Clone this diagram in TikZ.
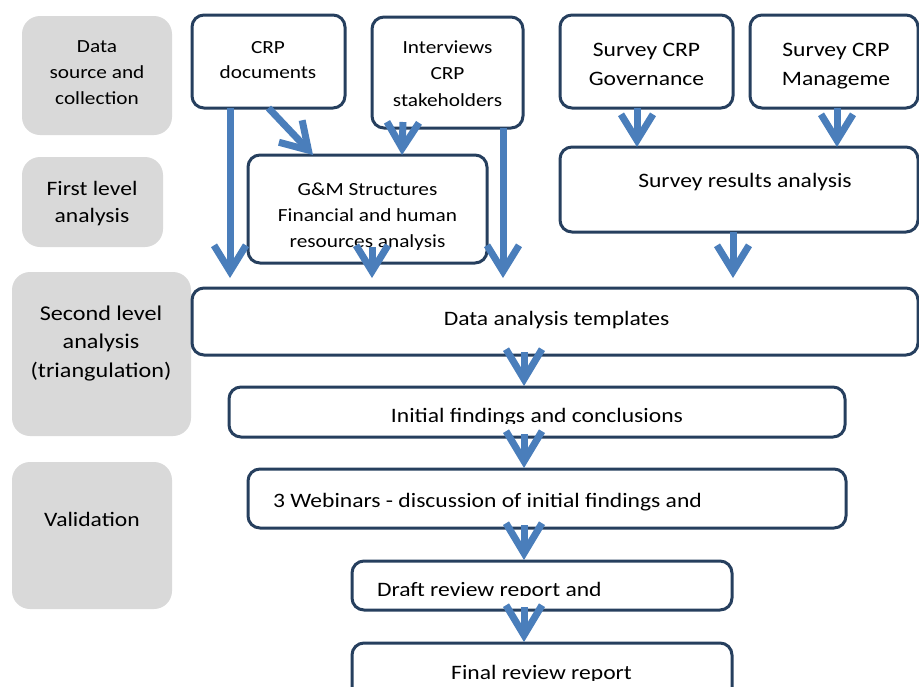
\documentclass[tikz,border=0pt]{standalone}
\usepackage{fontspec}
\setmainfont{Carlito}[FakeStretch=1.15]
\usetikzlibrary{arrows.meta}
\definecolor{navy}{HTML}{263F5E}
\definecolor{arrowblue}{HTML}{4A7EBB}
\definecolor{lgray}{HTML}{D9D9D9}
\newcommand{\mlines}[1]{\begin{tabular}[t]{@{}c@{}}#1\end{tabular}}
\begin{document}
\begin{tikzpicture}[x=1pt,y=-1pt,
  gbox/.style={fill=lgray, draw=none, rounded corners=18pt, inner sep=0pt, outer sep=0pt},
  wbox/.style={draw=navy, line width=3pt, fill=white, rounded corners=12pt, inner sep=0pt, outer sep=0pt},
  txt/.style={inner sep=0pt, outer sep=0pt, anchor=base, text=black},
  bigarr/.style={draw=arrowblue, line width=7pt, -{Straight Barb[length=26pt,width=32pt]}},
  smallarr/.style={draw=arrowblue, line width=7pt, -{Straight Barb[length=30pt,width=36pt]}}]
\useasboundingbox (0,0) rectangle (919,686);
% grey stage boxes
\node[gbox, minimum width=150pt, minimum height=119pt] (g1) at (97,75.5) {};
\node[gbox, minimum width=141pt, minimum height=90pt] (g2) at (92.5,202) {};
\node[gbox, minimum width=179pt, minimum height=164pt] (g3) at (101.5,354) {};
\node[gbox, minimum width=160pt, minimum height=147pt] (g4) at (92,535.5) {};
% white boxes
\node[wbox, minimum width=153pt, minimum height=93pt] (crpdoc) at (268.5,61.5) {};
\node[wbox, minimum width=151pt, minimum height=111pt] (interv) at (447.5,72.5) {};
\node[wbox, minimum width=239pt, minimum height=108pt] (gm) at (367.5,209) {};
\node[wbox, minimum width=173pt, minimum height=93pt] (sgov) at (646.5,61.5) {};
\node[wbox, minimum width=168pt, minimum height=93pt] (smgmt) at (834,61.5) {};
\node[wbox, minimum width=358pt, minimum height=85pt] (sres) at (739,189.5) {};
\node[wbox, minimum width=726pt, minimum height=67pt] (dat) at (555,321.5) {};
\node[wbox, minimum width=616pt, minimum height=50pt] (init) at (537,412) {};
\node[wbox, minimum width=598pt, minimum height=59pt] (web) at (547,498.5) {};
\node[wbox, minimum width=380pt, minimum height=49pt] (draft) at (542,585.5) {};
\node[wbox, minimum width=380pt, minimum height=57pt] (final) at (542,671.5) {};
% texts of grey boxes
\node[txt, font=\fontsize{18.5}{26}\selectfont] (t1) at (97,52) {\mlines{Data\\source and\\collection}};
\node[txt, font=\fontsize{20.5}{27}\selectfont] (t2) at (92,195) {\mlines{First level\\analysis}};
\node[txt, font=\fontsize{21}{28.5}\selectfont] (t3) at (101,320) {\mlines{Second level\\analysis\\(triangulation)}};
\node[txt, font=\fontsize{20.5}{27}\selectfont] (t4) at (92,526) {Validation};
% texts of white boxes
\node[txt, font=\fontsize{18.5}{25.5}\selectfont] (tcrp) at (268,53) {\mlines{CRP\\documents}};
\node[txt, font=\fontsize{18.5}{26.5}\selectfont] (tint) at (447.5,53) {\mlines{Interviews\\CRP\\stakeholders}};
\node[txt, font=\fontsize{18.5}{26}\selectfont] (tgm) at (367.5,195) {\mlines{G\&M Structures\\Financial and human\\resources analysis}};
\node[txt, font=\fontsize{20.5}{29.5}\selectfont] (tsg) at (646.5,56) {\mlines{Survey CRP\\Governance}};
\node[txt, font=\fontsize{20.5}{29.5}\selectfont] (tsm) at (836,56) {\mlines{Survey CRP\\Manageme}};
\node[txt, font=\fontsize{20.5}{25}\selectfont] (tsr) at (745,187) {Survey results analysis};
\node[txt, font=\fontsize{20.5}{25}\selectfont] (tdat) at (556.5,325) {Data analysis templates};
\begin{scope}
  \clip (230,380) rectangle (845,423.5);
  \node[txt, font=\fontsize{20.5}{25}\selectfont] (tinit) at (537,422) {Initial findings and conclusions};
\end{scope}
\node[txt, anchor=base west, font=\fontsize{20.5}{25}\selectfont] (tweb) at (273,507) {3 Webinars - discussion of initial findings and};
\begin{scope}
  \clip (352,560) rectangle (732,595.5);
  \node[txt, anchor=base west, font=\fontsize{20.5}{25}\selectfont] (tdraft) at (377,596) {Draft review report and};
\end{scope}
\begin{scope}
  \clip (352,640) rectangle (732,680);
  \node[txt, font=\fontsize{20.5}{25}\selectfont] (tfinal) at (541.5,679) {Final review report};
\end{scope}
% arrows
\draw[bigarr] ([xshift=-38.5pt]crpdoc.south) -- ([xshift=-325pt,yshift=10pt]dat.north);
\draw[bigarr] (crpdoc.south) -- ([xshift=-54.5pt]gm.north);
\draw[bigarr] ([xshift=-44.5pt,yshift=6pt]interv.south) -- ([xshift=34.5pt]gm.north);
\draw[bigarr] ([xshift=4.5pt,yshift=16pt]gm.south) -- ([xshift=-183pt,yshift=10pt]dat.north);
\draw[bigarr] ([xshift=55.5pt]interv.south) -- ([xshift=-52pt,yshift=10pt]dat.north);
\draw[bigarr] ([xshift=-9.5pt]sgov.south) -- ([xshift=-102pt]sres.north);
\draw[bigarr] ([xshift=3pt]smgmt.south) -- ([xshift=98pt]sres.north);
\draw[bigarr] ([xshift=-6pt]sres.south) -- ([xshift=178pt,yshift=10pt]dat.north);
\draw[smallarr] ([xshift=-31pt,yshift=3pt]dat.south) -- ([xshift=-13pt,yshift=1pt]init.north);
\draw[smallarr] ([xshift=-13pt,yshift=3pt]init.south) -- ([xshift=-23pt,yshift=1pt]web.north);
\draw[smallarr] ([xshift=-23pt,yshift=3pt]web.south) -- ([xshift=-18pt,yshift=1pt]draft.north);
\draw[smallarr] ([xshift=-18pt,yshift=3pt]draft.south) -- ([xshift=-18pt,yshift=1pt]final.north);
\end{tikzpicture}
\end{document}
